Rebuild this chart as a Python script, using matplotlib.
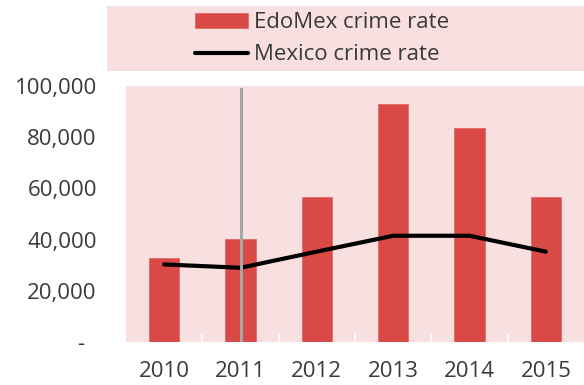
import matplotlib
matplotlib.use("Agg")
import matplotlib.pyplot as plt
from matplotlib.patches import Rectangle
from matplotlib.ticker import FuncFormatter, MultipleLocator

years = ["2010", "2011", "2012", "2013", "2014", "2015"]
edomex_rate = [32700, 40100, 56500, 93000, 83500, 56600]
mexico_rate = [30300, 29000, 35300, 41500, 41500, 35300]
marker_year = "2011"

pink = "#f8e0e1"
red = "#d94a47"
text_color = "#3a3a3a"

plt.rcParams["font.family"] = ["Open Sans", "DejaVu Sans"]
plt.rcParams["font.size"] = 16

fig = plt.figure(figsize=(5.84, 3.85), dpi=100)
ax = fig.add_axes([0.2158, 0.1117, 0.7842, 0.6649])
ax.set_facecolor(pink)

x = list(range(len(years)))
bars = ax.bar(x, edomex_rate, width=0.4, color=red, edgecolor="#e46a67", linewidth=0.6,
              label="EdoMex crime rate", zorder=2)
line, = ax.plot(x, mexico_rate, color="black", linewidth=3, solid_capstyle="round",
                label="Mexico crime rate", zorder=3)
ax.axvline(years.index(marker_year), ymin=0, ymax=0.99, color="#a6a6a6",
           linewidth=2.2, zorder=4)

ax.set_xlim(-0.5, len(years) - 0.5)
ax.set_ylim(0, 100000)
ax.set_xticks(x)
ax.set_xticklabels(years)
ax.yaxis.set_major_locator(MultipleLocator(20000))
ax.yaxis.set_major_formatter(FuncFormatter(lambda v, p: "-  " if v == 0 else f"{v:,.0f}"))
ax.set_xticks([i + 0.5 for i in x[:-1]], minor=True)
ax.tick_params(axis="x", which="major", length=0, pad=14, colors=text_color)
ax.tick_params(axis="x", which="minor", direction="in", length=6, width=1.2, color="white")
ax.tick_params(axis="y", length=0, pad=21, colors=text_color)
for s in ax.spines.values():
    s.set_visible(False)

# pink legend box above the plot
fig.patches.append(Rectangle((0.183, 0.8156), 0.817, 0.169, transform=fig.transFigure,
                             facecolor=pink, edgecolor="none", zorder=0))
leg = fig.legend([bars, line], ["EdoMex crime rate", "Mexico crime rate"],
                 loc="center", bbox_to_anchor=(0.551, 0.899), frameon=False,
                 handlelength=2.4, handletextpad=0.25, labelspacing=0.5,
                 borderpad=0, fontsize=16)
for t in leg.get_texts():
    t.set_color(text_color)

fig.savefig("out.png", dpi=100)
